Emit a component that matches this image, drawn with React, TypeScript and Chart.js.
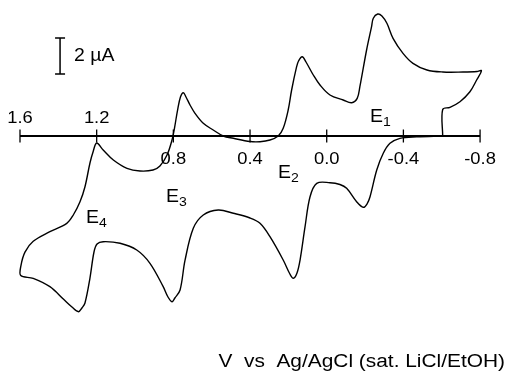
import React, { useEffect, useRef } from "react";
import { Chart, registerables } from "chart.js";

Chart.register(...registerables);

// Potential (V vs Ag/AgCl) along the sweep, in order
const potential = [
  -0.605, -0.605, -0.643, -0.695, -0.747, -0.782, -0.807, -0.784, -0.711, -0.606,
  -0.523, -0.45, -0.398, -0.346, -0.314, -0.288, -0.266, -0.243, -0.234, -0.208,
  -0.173, -0.159, -0.13, -0.086, -0.017, 0.035, 0.07, 0.108, 0.128, 0.147,
  0.157, 0.183, 0.201, 0.227, 0.253, 0.296, 0.348, 0.4, 0.487, 0.54,
  0.592, 0.644, 0.687, 0.713, 0.734, 0.748, 0.763, 0.778, 0.794, 0.807,
  0.833, 0.87, 0.906, 0.974, 1.042, 1.113, 1.166, 1.2, 1.219, 1.235,
  1.261, 1.287, 1.322, 1.356, 1.444, 1.531, 1.574, 1.595, 1.596, 1.531,
  1.444, 1.374, 1.329, 1.295, 1.277, 1.261, 1.235, 1.214, 1.198, 1.166,
  1.078, 0.991, 0.922, 0.853, 0.828, 0.807, 0.792, 0.765, 0.739, 0.696,
  0.644, 0.566, 0.487, 0.4, 0.348, 0.296, 0.227, 0.192, 0.174, 0.155,
  0.139, 0.113, 0.087, 0.052, -0.017, -0.069, -0.104, -0.156, -0.191, -0.21,
  -0.226, -0.261, -0.295, -0.33, -0.382, -0.469, -0.605,
];

// Current (µA) at each potential above
const current = [
  0, 1.472, 1.594, 1.906, 2.461, 3.111, 3.628, 3.583, 3.556, 3.556,
  3.667, 4.039, 4.594, 5.428, 6.261, 6.667, 6.778, 6.539, 6.072, 4.778,
  2.739, 2.094, 1.85, 2.0, 2.278, 2.833, 3.389, 4.111, 4.406, 4.167,
  3.85, 2.556, 1.444, 0.428, 0, -0.222, -0.317, -0.306, -0.128, 0,
  0.333, 0.706, 1.261, 1.722, 2.167, 2.406, 2.167, 1.444, 0.444, -0.222,
  -1.056, -1.667, -1.889, -1.944, -1.794, -1.333, -0.778, -0.389, -0.889, -1.5,
  -2.817, -3.65, -4.389, -4.85, -5.317, -5.85, -6.45, -7.2, -7.75, -7.906,
  -8.372, -9.056, -9.5, -9.761, -9.556, -9.278, -7.889, -6.444, -6.0, -5.872,
  -5.961, -6.333, -7.072, -8.372, -8.944, -9.206, -9.0, -8.556, -6.9, -5.128,
  -4.389, -4.111, -4.294, -4.556, -4.85, -5.594, -6.889, -7.667, -7.906, -7.611,
  -6.889, -5.039, -3.372, -2.628, -2.594, -2.694, -2.906, -3.65, -3.961, -3.778,
  -3.372, -1.889, -0.961, -0.406, -0.128, -0.044, 0,
];

const tickValues = [1.6, 1.2, 0.8, 0.4, 0.0, -0.4, -0.8];
const tickLabels = ["1.6", "1.2", "0.8", "0.4", "0.0", "-0.4", "-0.8"];

const peakNames = ["E", "E", "E", "E"];
const peakSubs = ["1", "2", "3", "4"];
const peakV = [-0.226, 0.254, 0.838, 1.256];
const peakI = [0.778, -2.35, -3.667, -4.833];

const scaleBarValue = 2; // µA
const scaleBarLabel = "2 µA";
const xAxisTitle = "V  vs  Ag/AgCl (sat. LiCl/EtOH)";

const FONT = '"Liberation Sans", Arial, Helvetica, sans-serif';

function drawText(
  ctx: CanvasRenderingContext2D,
  s: string,
  x: number,
  y: number,
  size: number,
  align: "left" | "center" | "right",
  sx = 1.08
) {
  ctx.save();
  ctx.font = `${size}px ${FONT}`;
  const w = ctx.measureText(s).width * sx;
  const left = align === "center" ? x - w / 2 : align === "right" ? x - w : x;
  ctx.translate(left, y);
  ctx.scale(sx, 1);
  ctx.textAlign = "left";
  ctx.textBaseline = "alphabetic";
  ctx.fillStyle = "#000";
  ctx.fillText(s, 0, 0);
  ctx.restore();
  return w;
}

const overlayPlugin = {
  id: "cvOverlay",
  beforeDatasetsDraw(chart: any) {
    const { ctx, scales } = chart;
    const xs = scales.x;
    const ys = scales.y;
    ctx.save();
    ctx.strokeStyle = "#000";
    const y0 = ys.getPixelForValue(0);
    const xl = xs.getPixelForValue(tickValues[0]);
    const xr = xs.getPixelForValue(tickValues[tickValues.length - 1]);
    ctx.lineWidth = 2;
    ctx.beginPath();
    ctx.moveTo(xl, y0);
    ctx.lineTo(xr, y0);
    ctx.stroke();
    ctx.lineWidth = 1.3;
    tickValues.forEach((v, i) => {
      const px = xs.getPixelForValue(v);
      ctx.beginPath();
      ctx.moveTo(px, y0 - 6.5);
      ctx.lineTo(px, y0 + 6.5);
      ctx.stroke();
      const above = v > 1.0;
      drawText(ctx, tickLabels[i], px, above ? y0 - 13 : y0 + 28, 17, "center");
    });
    ctx.restore();
  },
  afterDatasetsDraw(chart: any) {
    const { ctx, scales, width, height } = chart;
    const xs = scales.x;
    const ys = scales.y;
    ctx.save();
    // peak labels
    peakNames.forEach((n, i) => {
      const px = xs.getPixelForValue(peakV[i]);
      const py = ys.getPixelForValue(peakI[i]);
      const w = drawText(ctx, n, px, py, 18, "left");
      drawText(ctx, peakSubs[i], px + w, py + 4, 13, "left");
    });
    // scale bar
    const bx = xs.getPixelForValue(1.391);
    const bTop = ys.getPixelForValue(3.45 + scaleBarValue);
    const bBot = ys.getPixelForValue(3.45);
    ctx.strokeStyle = "#000";
    ctx.lineWidth = 1.5;
    ctx.beginPath();
    ctx.moveTo(bx, bTop);
    ctx.lineTo(bx, bBot);
    ctx.moveTo(bx - 5, bTop);
    ctx.lineTo(bx + 5, bTop);
    ctx.moveTo(bx - 5, bBot);
    ctx.lineTo(bx + 5, bBot);
    ctx.stroke();
    drawText(ctx, scaleBarLabel, bx + 14, (bTop + bBot) / 2 + 5, 18, "left");
    // axis title
    drawText(ctx, xAxisTitle, width - 4, height - 7, 18, "right", 1.16);
    ctx.restore();
  },
};

export default function App() {
  const ref = useRef<HTMLCanvasElement | null>(null);
  useEffect(() => {
    if (!ref.current) return;
    const data = potential.map((v, i) => ({ x: v, y: current[i] }));
    const chart = new Chart(ref.current, {
      type: "scatter",
      data: {
        datasets: [
          {
            data,
            showLine: true,
            borderColor: "#000",
            borderWidth: 1.4,
            pointRadius: 0,
            tension: 0.35,
            fill: false,
          },
        ],
      },
      options: {
        animation: false,
        responsive: false,
        devicePixelRatio: 1,
        layout: { padding: 0 },
        plugins: { legend: { display: false }, tooltip: { enabled: false } },
        scales: {
          x: { type: "linear", reverse: true, min: -0.9509, max: 1.7043, display: false },
          y: { type: "linear", min: -13.222, max: 7.556, display: false },
        },
      },
      plugins: [overlayPlugin],
    });
    return () => chart.destroy();
  }, []);
  return (
    <div style={{ position: "fixed", left: 0, top: 0, width: 509, height: 374, background: "#fff" }}>
      <canvas ref={ref} width={509} height={374} style={{ width: 509, height: 374, display: "block" }} />
    </div>
  );
}
